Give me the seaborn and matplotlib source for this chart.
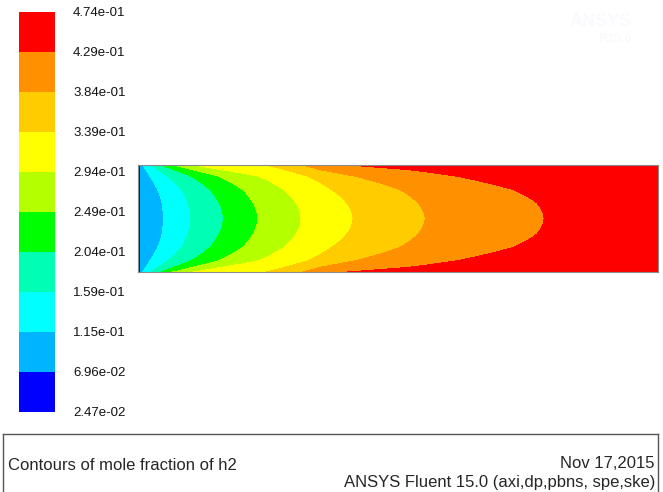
import numpy as np
import seaborn as sns
import matplotlib.pyplot as plt

# contour levels (mole fraction of h2) and Fluent band colours
levels = [2.47e-02, 6.96e-02, 1.15e-01, 1.59e-01, 2.04e-01, 2.49e-01,
          2.94e-01, 3.39e-01, 3.84e-01, 4.29e-01, 4.74e-01]
band_colors = ['#0000ff', '#00b4ff', '#00ffff', '#00ffb4', '#00ff00',
               '#b4ff00', '#ffff00', '#ffcc00', '#ff9000', '#ff0000']

# axial position of each inner level boundary, read off at a few radial
# positions (s = |r|/R, 0 = axis, 1 = wall); domain length 520, radius 53.5
L_DOM = 520.0
R_DOM = 53.5
s_rows = [0.0, 0.29, 0.54, 0.79, 0.91, 1.0]
b_0696 = [2.5, 2.5, 2.5, 2.5, 2.5, 2.5]
b_115 = [25.3, 24.0, 19.7, 12.0, 8.0, 4.7]
b_159 = [53.0, 49.7, 44.0, 29.7, 20.0, 13.0]
b_204 = [85.3, 81.0, 72.0, 53.0, 36.0, 23.0]
b_249 = [119.7, 115.0, 104.7, 81.0, 54.0, 34.7]
b_294 = [163.0, 158.0, 146.0, 121.0, 84.0, 54.7]
b_339 = [215.0, 208.7, 193.7, 170.0, 147.0, 128.0]
b_384 = [287.0, 280.0, 262.0, 217.0, 182.0, 165.0]
b_429 = [406.0, 399.0, 375.0, 319.0, 272.0, 209.0]
inlet_val = 0.03
far_val = 0.47

title_txt = 'Contours of mole fraction of h2'
date_txt = 'Nov 17,2015'
solver_txt = 'ANSYS Fluent 15.0 (axi,dp,pbns, spe,ske)'

sns.set_theme(style='white')
plt.rcParams['font.family'] = ['Liberation Sans', 'DejaVu Sans']
palette = sns.color_palette(band_colors)

W, H = 663, 492
fig = plt.figure(figsize=(W / 100, H / 100), dpi=100)
fig.patch.set_facecolor('white')

# boundary position between readings: linear in s^2 (parabolic near the axis),
# then the field is built row by row
bounds = [b_0696, b_115, b_159, b_204, b_249, b_294, b_339, b_384, b_429]
u_rows = np.array(s_rows) ** 2

xg = np.linspace(0, L_DOM, 1301)
rg = np.linspace(-R_DOM, R_DOM, 321)
Z = np.zeros((len(rg), len(xg)))
for i, r in enumerate(rg):
    u = (abs(r) / R_DOM) ** 2
    bx = [np.interp(u, u_rows, b) for b in bounds]
    Z[i] = np.interp(xg, [0.0] + bx + [L_DOM], [inlet_val] + levels[1:-1] + [far_val])

ax = fig.add_axes([138 / W, 1 - 272 / H, 520 / W, 107 / H])
cs = ax.contourf(xg, rg, Z, levels=levels, colors=palette)
ax.set_xlim(0, L_DOM)
ax.set_ylim(-R_DOM, R_DOM)
ax.set_xticks([])
ax.set_yticks([])
for sp in ax.spines.values():
    sp.set_color('#8a8a8a')
    sp.set_linewidth(0.8)

# colour bar on the left
cax = fig.add_axes([19 / W, 1 - 412 / H, 36 / W, 400 / H])
cb = fig.colorbar(cs, cax=cax, ticks=levels)
cb.outline.set_visible(False)
cb.ax.set_yticklabels(['%.2e' % v for v in levels])
cb.ax.tick_params(length=0, pad=13, labelsize=9.5, colors='#111111')

# faint watermark
fig.text(601 / W, 1 - 22 / H, 'ANSYS', ha='center', va='center', fontsize=13,
         fontweight='bold', color='#f8fafd')
fig.text(615 / W, 1 - 39 / H, 'R15.0', ha='center', va='center', fontsize=9,
         fontweight='bold', color='#f8fafd')

# bottom info box
bx_ax = fig.add_axes([3 / W, 0, 655 / W, (H - 434) / H])
bx_ax.set_xlim(0, 1)
bx_ax.set_ylim(0, 1)
bx_ax.set_xticks([])
bx_ax.set_yticks([])
bx_ax.spines['bottom'].set_visible(False)
for k in ['top', 'left', 'right']:
    bx_ax.spines[k].set_color('#555555')
    bx_ax.spines[k].set_linewidth(1.0)
bx_ax.text(5 / 655, 1 - 31 / 58, title_txt, ha='left', va='center', fontsize=12)
bx_ax.text(652 / 655, 1 - 30 / 58, date_txt, ha='right', va='center', fontsize=12)
bx_ax.text(652 / 655, 1 - 48 / 58, solver_txt, ha='right', va='center', fontsize=12)

fig.savefig('out.png', dpi=100)
